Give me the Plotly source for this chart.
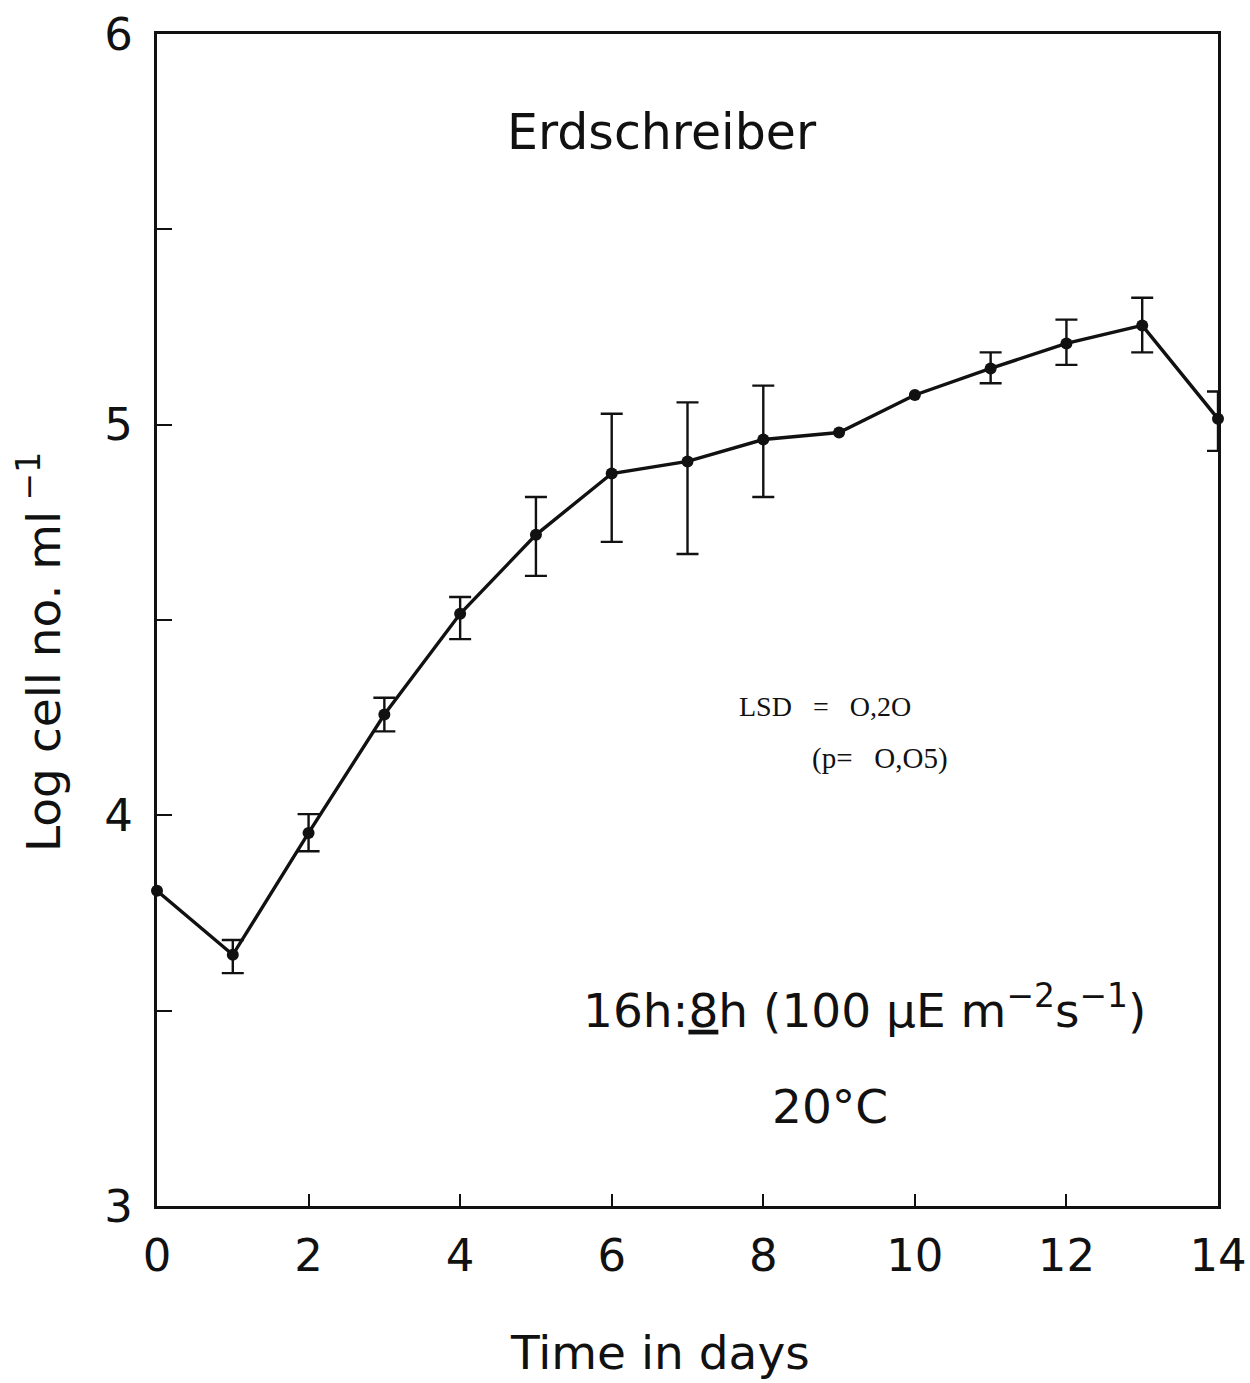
import plotly.graph_objects as go

# Growth curve in Erdschreiber medium
days = [0, 1, 2, 3, 4, 5, 6, 7, 8, 9, 10, 11, 12, 13, 14]
log_cells = [3.807, 3.643, 3.955, 4.258, 4.516, 4.718, 4.875, 4.906, 4.962,
             4.980, 5.076, 5.144, 5.208, 5.254, 5.015]
err_plus = [None, 0.038, 0.048, 0.043, 0.043, 0.097, 0.153, 0.151, 0.138,
            None, None, 0.041, 0.061, 0.071, 0.070]
err_minus = [None, 0.047, 0.047, 0.043, 0.065, 0.105, 0.175, 0.237, 0.147,
             None, None, 0.038, 0.055, 0.069, 0.082]

x_tickvals = [0, 2, 4, 6, 8, 10, 12, 14]
x_ticktext = ["0", "2", "4", "6", "8", "10", "12", "14"]
y_tickvals = [3, 4, 5, 6]
y_ticktext = ["3", "4", "5", "6"]

SANS = "DejaVu Sans, Verdana, sans-serif"
SERIF = "Liberation Serif, Times New Roman, serif"
INK = "#111111"
NB = "\u00a0"

# only days that carry a measured spread get error bars
eb = [i for i, e in enumerate(err_plus) if e is not None]

fig = go.Figure()
fig.add_trace(go.Scatter(
    x=[days[i] for i in eb], y=[log_cells[i] for i in eb],
    mode="markers", marker=dict(color=INK, size=1, opacity=0),
    error_y=dict(type="data", symmetric=False,
                 array=[err_plus[i] for i in eb],
                 arrayminus=[err_minus[i] for i in eb],
                 color=INK, thickness=2.4, width=11),
    cliponaxis=False, showlegend=False, hoverinfo="skip",
))
fig.add_trace(go.Scatter(
    x=days, y=log_cells,
    mode="lines+markers",
    line=dict(color=INK, width=3.4),
    marker=dict(color=INK, size=12),
    cliponaxis=False,
    showlegend=False,
))

fig.update_xaxes(
    range=[0, 14], tickvals=x_tickvals, ticktext=x_ticktext,
    ticks="inside", ticklen=12, tickwidth=2, tickcolor=INK,
    showline=True, linecolor=INK, linewidth=3, mirror=True,
    showgrid=False, zeroline=False,
    tickfont=dict(family=SANS, size=45, color=INK),
    ticklabelstandoff=8,
)
fig.update_yaxes(
    range=[3, 6], tickvals=y_tickvals, ticktext=y_ticktext,
    ticks="inside", ticklen=5, tickwidth=2, tickcolor=INK,
    minor=dict(dtick=0.5, tick0=3, ticks="inside", ticklen=15,
               tickwidth=2, tickcolor=INK, showgrid=False),
    showline=True, linecolor=INK, linewidth=3, mirror=True,
    showgrid=False, zeroline=False,
    tickfont=dict(family=SANS, size=45, color=INK),
    ticklabelstandoff=12,
)

annotations = [
    dict(x=6.66, y=5.749, xref="x", yref="y", text="Erdschreiber",
         font=dict(family=SANS, size=49, color=INK)),
    dict(x=9.33, y=3.510, xref="x", yref="y",
         text="16h:<u>8</u>h (100 μE m<sup>−2</sup>s<sup>−1</sup>)",
         font=dict(family=SANS, size=47, color=INK)),
    dict(x=8.88, y=3.254, xref="x", yref="y", text="20°C",
         font=dict(family=SANS, size=47, color=INK)),
    dict(x=7.65, y=4.279, xref="x", yref="y",
         text="LSD" + NB * 3 + "=" + NB * 3 + "O,2O",
         font=dict(family=SERIF, size=28, color=INK), xanchor="left"),
    dict(x=8.62, y=4.146, xref="x", yref="y",
         text="(p=" + NB * 3 + "O,O5)",
         font=dict(family=SERIF, size=29, color=INK), xanchor="left"),
    dict(x=(660 - 157) / 1061, y=(1206 - 1352) / 1172, xref="paper", yref="paper",
         text="Time in days", font=dict(family=SANS, size=47, color=INK)),
    dict(x=(40 - 157) / 1061, y=(1206 - 652) / 1172, xref="paper", yref="paper",
         text="Log cell no. ml<sup> −1</sup>", textangle=-90,
         font=dict(family=SANS, size=47, color=INK)),
]
for a in annotations:
    a.setdefault("showarrow", False)
    a.setdefault("xanchor", "center")
    a.setdefault("yanchor", "middle")

fig.update_layout(
    width=1250, height=1383,
    margin=dict(l=157, r=32, t=34, b=177, autoexpand=False),
    paper_bgcolor="white", plot_bgcolor="white",
    annotations=annotations,
)

fig.write_html("out.html")
